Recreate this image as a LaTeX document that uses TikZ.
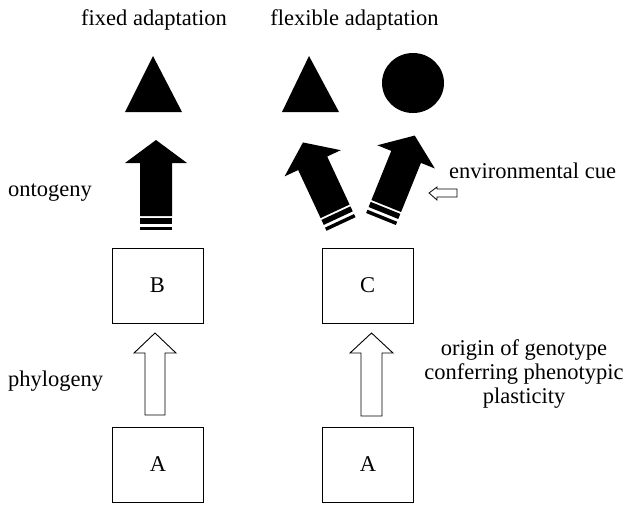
\documentclass[tikz,border=0pt]{standalone}
\usepackage{fontspec}
\setmainfont{Liberation Serif}
\newfontfamily\timesfont{Liberation Serif}
\begin{document}
\begin{tikzpicture}[x=1pt,y=-1pt,
  box/.style={draw,line width=0.9pt,minimum width=91pt,minimum height=75pt,inner sep=0pt},
  lbl/.style={inner sep=0pt,font=\timesfont\fontsize{22.5}{24}\selectfont},
  hollow/.style={draw,line width=0.9pt,fill=white,line join=miter},
  blkarrow/.pic={
    \fill (-16,0) rectangle (16,-3.5);
    \fill (-16,-6.5) rectangle (16,-12);
    \fill (-16,-14) -- (16,-14) -- (16,-67) -- (31,-67) -- (0,-90) -- (-31,-67) -- (-16,-67) -- cycle;
  }]
\useasboundingbox (0,0) rectangle (628,504);
\fill[white] (0,0) rectangle (628,504);
% boxes
\node[box,lbl] (B) at (157.5,285.5) {B};
\node[box,lbl] (C) at (367.5,285.5) {C};
\node[box,lbl] (A1) at (158,464.5) {A};
\node[box,lbl] (A2) at (368,464.5) {A};
% hollow arrows (phylogeny)
\draw[hollow] (145,415) -- (165,415) -- (165,353) -- (176,353) -- (155,333) -- (134,353) -- (145,353) -- cycle;
\draw[hollow] (361,416) -- (382,416) -- (382,353) -- (393,353) -- (371.5,333) -- (350,353) -- (361,353) -- cycle;
% black arrows (ontogeny)
\pic at (156,230) {blkarrow};
\pic[rotate=25] at (341,224) {blkarrow};
\pic[rotate=-22] at (381,219) {blkarrow};
% adaptations
\fill (153,56) -- (182,112) -- (125,112) -- cycle;
\fill (309,56) -- (339,112) -- (282,112) -- cycle;
\fill (413,83) ellipse [x radius=31, y radius=30];
% small environmental cue arrow
\draw[hollow,line width=0.8pt] (457,189) -- (437,189) -- (437,187) -- (429,193) -- (437,200) -- (437,197) -- (457,197) -- cycle;
% labels
\node[lbl] (fixed) at (154,20) {fixed adaptation};
\node[lbl] (flex) at (354.5,20) {flexible adaptation};
\node[lbl,anchor=west] (onto) at (8,193) {ontogeny};
\node[lbl,anchor=west] (phylo) at (8,381) {phylogeny};
\node[lbl,anchor=west] (cue) at (449,171) {environmental cue};
\node[lbl,align=center] (origin) at (524,374) {origin of genotype\\conferring phenotypic\\plasticity};
\end{tikzpicture}
\end{document}
